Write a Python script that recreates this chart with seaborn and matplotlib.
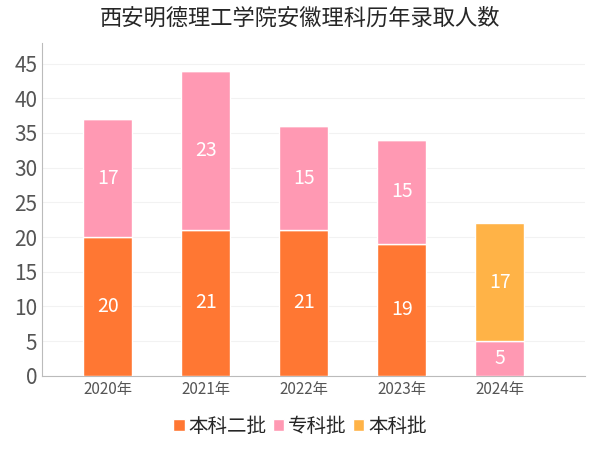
import numpy as np
import matplotlib.pyplot as plt
import seaborn as sns

plt.rcParams['font.family'] = ['Noto Sans CJK SC', 'Noto Sans CJK JP', 'Noto Sans CJK TC',
                               'Noto Sans CJK KR', 'DejaVu Sans']
plt.rcParams['font.sans-serif'] = ['Noto Sans CJK SC', 'Noto Sans CJK JP', 'DejaVu Sans']

years = ['2020年', '2021年', '2022年', '2023年', '2024年']
series_names = ['本科二批', '专科批', '本科批']
benke2 = [20, 21, 21, 19, 0]
zhuanke = [17, 23, 15, 15, 5]
benke = [0, 0, 0, 0, 17]
colors = ['#FF7733', '#FF99B3', '#FFB347']


def main():
    sns.set_style('white', {'font.family': plt.rcParams['font.family']})
    plt.rcParams['font.family'] = ['Noto Sans CJK SC', 'Noto Sans CJK JP', 'DejaVu Sans']
    fig = plt.figure(figsize=(6, 4.5), dpi=100)
    ax = fig.add_axes([0.07, 0.165, 0.905, 0.74])

    values = [benke2, zhuanke, benke]
    bottom = np.zeros(len(years))
    x = np.arange(len(years))
    for name, vals, color in zip(series_names, values, colors):
        vals = np.array(vals)
        ax.bar(x, vals, 0.5, bottom=bottom, color=color, label=name, zorder=3)
        for xi, v, b in zip(x, vals, bottom):
            if v > 0:
                ax.text(xi, b + v / 2, str(v), ha='center', va='center',
                        color='white', fontsize=14, zorder=4)
        bottom = bottom + vals

    ax.set_xticks(x)
    ax.set_xticklabels(years, fontsize=11, color='#555555')
    ax.set_xlim(-0.67, 4.87)
    ax.set_ylim(0, 48)
    ax.set_yticks(range(0, 46, 5))
    ax.tick_params(axis='y', labelsize=15, colors='#555555', length=0)
    ax.tick_params(axis='x', length=0)
    ax.grid(axis='y', color='#f2f2f2', linewidth=0.8, zorder=0)
    for s in ['top', 'right']:
        ax.spines[s].set_visible(False)
    ax.spines['left'].set_color('#bbbbbb')
    ax.spines['bottom'].set_color('#bbbbbb')

    fig.suptitle('西安明德理工学院安徽理科历年录取人数', fontsize=16, y=0.985)
    fig.legend(loc='lower center', ncol=3, frameon=False, fontsize=14,
               handlelength=0.6, handleheight=0.6, handletextpad=0.2,
               columnspacing=0.3, bbox_to_anchor=(0.5, -0.01))
    fig.savefig('out.png')


if __name__ == "__main__":
    main()
